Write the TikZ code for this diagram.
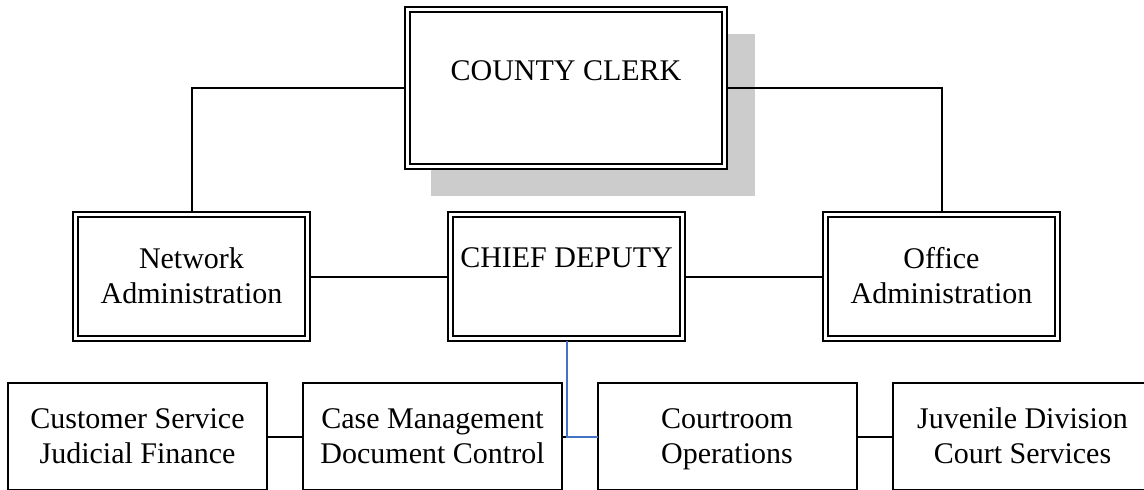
\documentclass[tikz,border=0pt]{standalone}
\usepackage{fontspec}
\setmainfont{Liberation Serif}
\begin{document}
\begin{tikzpicture}[x=1pt,y=-1pt,
  outerbox/.style={draw, fill=white, line width=1.9pt, inner sep=0pt, outer sep=0pt},
  headbox/.style={outerbox, minimum width=237pt, minimum height=129pt},
  unitbox/.style={outerbox, minimum width=259pt, minimum height=107pt, line width=2pt},
  label/.style={font=\fontsize{30}{34.5}\selectfont, align=center, anchor=base, inner sep=0pt},
  link/.style={draw, line width=2pt},
  bluelink/.style={draw=linkblue, line width=2pt}
]
\definecolor{linkblue}{HTML}{4472C4}
\definecolor{shadowgray}{HTML}{CCCCCC}
\useasboundingbox (0,0) rectangle (1144,490);
\clip (0,0) rectangle (1144,490);

% drop shadow behind the top box
\fill[shadowgray] (431,34) rectangle (755,196);

% top box
\node[outerbox, minimum width=322pt, minimum height=162pt] (clerk) at (566,88) {};
% second row
\node[headbox] (net) at (191.5,276.5) {};
\node[headbox] (chief) at (566.5,276.5) {};
\node[headbox] (office) at (941.5,276.5) {};
% third row
\node[unitbox] (cust) at (137.5,436.5) {};
\node[unitbox] (case) at (432.5,436.5) {};
\node[unitbox] (court) at (727,436.5) {};
\node[unitbox] (juv) at (1022.5,436.5) {};

% inner line of the double borders
\foreach \n in {clerk,net,chief,office}
  \draw[line width=2.5pt] ([shift={(5,5)}]\n.north west) rectangle ([shift={(-5,-5)}]\n.south east);

% texts, placed by the baseline of their last line
\node[label] at ([yshift=-73pt]clerk.north) {COUNTY CLERK};
\node[label] at ([yshift=-91pt]net.north) {Network\\Administration};
\node[label] at ([yshift=-55pt]chief.north) {CHIEF DEPUTY};
\node[label] at ([yshift=-91pt]office.north) {Office\\Administration};
\node[label] at ([yshift=-80pt]cust.north) {Customer Service\\Judicial Finance};
\node[label] at ([yshift=-80pt]case.north) {Case Management\\Document Control};
\node[label] at ([yshift=-80pt]court.north) {Courtroom\\Operations};
\node[label] at ([yshift=-80pt]juv.north) {Juvenile Division\\Court Services};

% connectors
\draw[link] (clerk.west) -| (net.north);
\draw[link] (clerk.east) -| (office.north);
\draw[link] (net.east) -- (chief.west);
\draw[link] (chief.east) -- (office.west);
\draw[link] (cust.east) -- (case.west);
\draw[link] (case.east) -- (court.west);
\draw[link] (court.east) -- (juv.west);
\draw[bluelink] (chief.south) |- (court.west);
\end{tikzpicture}
\end{document}
